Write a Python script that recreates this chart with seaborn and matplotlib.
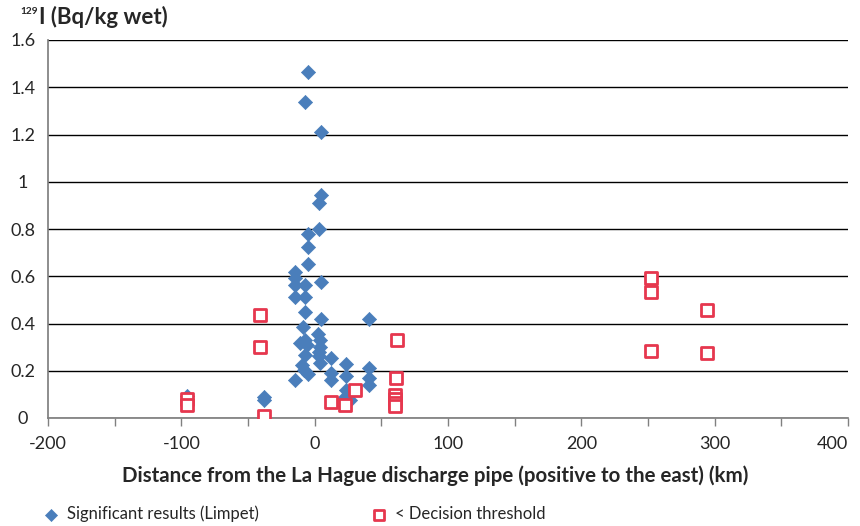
import matplotlib
matplotlib.use("Agg")
import matplotlib.pyplot as plt
import seaborn as sns
import pandas as pd

# Significant results (Limpet)
sig_x = [-5, -7.5, 5, 5, 3, 3, -5, -5, -5, -15, -15, -7, -15, 5, -15, -7, -7.5, 5, 40.6,
         -8.8, 2.5, 4.3, -10.8, -5.8, -7, 4.3, 3, -7, 3, 12.3, 4.3, 23.5, -9.5, 40.6,
         -8.3, -5, 12.3, 23.5, -15, 12.3, 40.6, 40.6, 23.5, 24, 26.8, 21.8,
         -96, -38, -38]
sig_y = [1.463, 1.337, 1.209, 0.946, 0.908, 0.799, 0.777, 0.724, 0.65, 0.62, 0.593, 0.565,
         0.562, 0.574, 0.513, 0.513, 0.447, 0.417, 0.42, 0.386, 0.354, 0.33, 0.316, 0.309,
         0.33, 0.30, 0.28, 0.266, 0.262, 0.252, 0.231, 0.228, 0.224, 0.213, 0.203, 0.186,
         0.192, 0.178, 0.161, 0.161, 0.168, 0.14, 0.118, 0.09, 0.076, 0.083,
         0.093, 0.088, 0.075]

# < Decision threshold
dt_x = [-96, -96, -38, -41, -41, 30, 12.3, 23, 62, 61, 60, 60, 60, 60,
        252.4, 252.4, 294.2, 252.4, 294.2]
dt_y = [0.08, 0.057, 0.008, 0.438, 0.30, 0.118, 0.066, 0.055, 0.33, 0.168, 0.098, 0.08,
        0.063, 0.05, 0.591, 0.534, 0.457, 0.285, 0.274]

x_ticks = list(range(-200, 401, 50))
x_labels = [str(v) if v % 100 == 0 else "" for v in x_ticks]
y_ticks = [0, 0.2, 0.4, 0.6, 0.8, 1.0, 1.2, 1.4, 1.6]
y_labels = ["0", "0.2", "0.4", "0.6", "0.8", "1", "1.2", "1.4", "1.6"]

sns.set_theme(style="white")
plt.rcParams["font.family"] = ["Lato", "DejaVu Sans"]

fig = plt.figure(figsize=(8.6, 5.26), dpi=100)
ax = fig.add_axes([48 / 860, 1 - 418 / 526, 800 / 860, 378 / 526])

blue = "#4A7EBB"
red = "#E6374E"

sig = pd.DataFrame({"x": sig_x, "y": sig_y})
dt = pd.DataFrame({"x": dt_x, "y": dt_y})

sns.scatterplot(data=sig, x="x", y="y", marker="D", s=52, color=blue, edgecolor=blue,
                linewidth=0.5, ax=ax, label="Significant results (Limpet)", zorder=3)
sns.scatterplot(data=dt, x="x", y="y", marker="s", s=72, facecolor="white", edgecolor=red,
                linewidth=2.0, ax=ax, label="< Decision threshold", zorder=4)

ax.set_xlim(-200, 400)
ax.set_ylim(0, 1.6)
ax.set_xticks(x_ticks)
ax.set_xticklabels(x_labels, fontsize=13)
ax.get_xticklabels()[-1].set_horizontalalignment("right")
ax.set_yticks(y_ticks)
ax.set_yticklabels(y_labels, fontsize=13)
for lab in ax.get_yticklabels():
    lab.set_horizontalalignment("center")
ax.tick_params(axis="y", length=0, pad=18)
ax.tick_params(axis="x", direction="out", length=6, width=1, color="#808080", pad=7,
               bottom=True)
ax.grid(axis="y", color="black", linewidth=1)
ax.set_axisbelow(True)
for side in ["top", "right"]:
    ax.spines[side].set_visible(False)
ax.spines["left"].set_color("#808080")
ax.spines["bottom"].set_color("#808080")
ax.set_xlabel("")
ax.set_ylabel("")

fig.text(20 / 860, 1 - 11 / 526, "129", fontsize=7.3, fontweight="bold",
         ha="left", va="center")
fig.text(39 / 860, 1 - 17 / 526, "I (Bq/kg wet)", fontsize=16, fontweight="bold",
         ha="left", va="center")
fig.text(435 / 860, 1 - 476 / 526,
         "Distance from the La Hague discharge pipe (positive to the east) (km)",
         fontsize=14.8, fontweight="bold", ha="center", va="center")

ax.get_legend().remove()
handles, labels = ax.get_legend_handles_labels()
leg = fig.legend(handles, labels, loc="center left", bbox_to_anchor=(28 / 860, 1 - 514 / 526),
                 ncol=2, frameon=False, fontsize=12,
                 columnspacing=6.7, handletextpad=0.45,
                 handlelength=1.0, markerscale=0.85)

fig.savefig("out.png", dpi=100)
